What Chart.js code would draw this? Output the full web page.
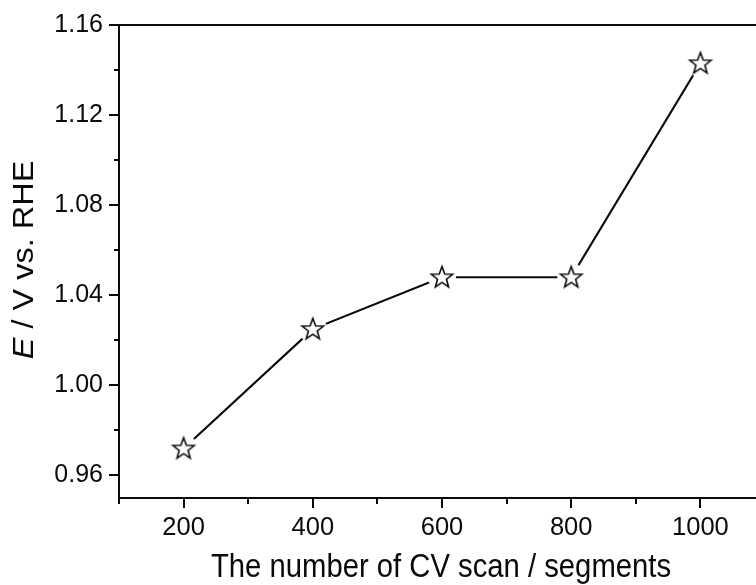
<!DOCTYPE html>
<html>
<head>
<meta charset="utf-8">
<script src="https://cdn.jsdelivr.net/npm/chart.js@4/dist/chart.umd.min.js"></script>
<style>
  html, body { margin: 0; padding: 0; background: #fff; overflow: hidden; }
  canvas { display: block; }
</style>
</head>
<body>
<canvas id="c" width="780" height="585"></canvas>
<script>
// Onset potential versus number of CV scan segments
const scans = [200, 400, 600, 800, 1000];
const potential = [0.972, 1.025, 1.048, 1.048, 1.143];

const xTicks = [200, 400, 600, 800, 1000];
const xMinorTicks = [100, 300, 500, 700, 900, 1100];
const yTicks = [0.96, 1.00, 1.04, 1.08, 1.12, 1.16];
const yMinorTicks = [0.98, 1.02, 1.06, 1.10, 1.14];

const xTitle = 'The number of CV scan / segments';
const yTitleItalic = 'E';
const yTitleRest = ' / V vs. RHE';

const FONT = '"Liberation Sans", Arial, Helvetica, sans-serif';
const INK = '#0a0a0a';

// Hollow five-pointed star; the white disc behind it leaves a small gap in the line
function makeStar() {
  const size = 34, c = size / 2;
  const cv = document.createElement('canvas');
  cv.width = size; cv.height = size;
  const g = cv.getContext('2d');
  g.fillStyle = '#fff';
  g.beginPath(); g.arc(c, c, 14, 0, Math.PI * 2); g.fill();
  const R = 11.2, r = 4.7;
  g.beginPath();
  for (let i = 0; i < 10; i++) {
    const rad = i % 2 === 0 ? R : r;
    const a = -Math.PI / 2 + i * Math.PI / 5;
    const px = c + rad * Math.cos(a), py = c + 0.5 + rad * Math.sin(a);
    i === 0 ? g.moveTo(px, py) : g.lineTo(px, py);
  }
  g.closePath();
  g.fillStyle = '#fff';
  g.fill();
  g.lineWidth = 1.6;
  g.strokeStyle = INK;
  g.lineJoin = 'miter';
  g.stroke();
  return cv;
}

// Frame top edge, outward tick marks and axis titles
const framePlugin = {
  id: 'frame',
  afterDraw(chart) {
    const { ctx, chartArea: a, scales: { x, y } } = chart;
    ctx.save();
    ctx.strokeStyle = INK;
    ctx.lineWidth = 2;
    ctx.lineCap = 'butt';

    ctx.beginPath();
    ctx.moveTo(a.left - 1, a.top);
    ctx.lineTo(a.right, a.top);
    ctx.moveTo(a.right, a.top);
    ctx.lineTo(a.right, a.bottom);
    ctx.stroke();

    const tick = (x1, y1, x2, y2) => { ctx.beginPath(); ctx.moveTo(x1, y1); ctx.lineTo(x2, y2); ctx.stroke(); };
    xTicks.forEach(v => { const px = Math.round(x.getPixelForValue(v)); tick(px, a.bottom, px, a.bottom + 10); });
    xMinorTicks.forEach(v => { const px = Math.round(x.getPixelForValue(v)); tick(px, a.bottom, px, a.bottom + 6); });
    yTicks.forEach(v => { const py = Math.round(y.getPixelForValue(v)); tick(a.left, py, a.left - 10, py); });
    yMinorTicks.forEach(v => { const py = Math.round(y.getPixelForValue(v)); tick(a.left, py, a.left - 5, py); });

    ctx.fillStyle = INK;

    // x title
    ctx.save();
    ctx.font = '32.5px ' + FONT;
    ctx.textAlign = 'center';
    ctx.textBaseline = 'alphabetic';
    ctx.translate(441, 577);
    ctx.scale(0.9, 1);
    ctx.fillText(xTitle, 0, 0);
    ctx.restore();

    // y title with italic symbol
    ctx.save();
    ctx.translate(25, 260);
    ctx.rotate(-Math.PI / 2);
    ctx.scale(1, 0.88);
    ctx.textBaseline = 'middle';
    ctx.textAlign = 'left';
    ctx.font = 'italic 32.5px ' + FONT;
    const w1 = ctx.measureText(yTitleItalic).width;
    ctx.font = '32.5px ' + FONT;
    const w2 = ctx.measureText(yTitleRest).width;
    const start = -(w1 + w2) / 2;
    ctx.font = 'italic 32.5px ' + FONT;
    ctx.fillText(yTitleItalic, start, 0);
    ctx.font = '32.5px ' + FONT;
    ctx.fillText(yTitleRest, start + w1, 0);
    ctx.restore();

    ctx.restore();
  }
};

const star = makeStar();

new Chart(document.getElementById('c'), {
  type: 'line',
  data: {
    datasets: [{
      data: scans.map((s, i) => ({ x: s, y: potential[i] })),
      borderColor: INK,
      borderWidth: 2.2,
      tension: 0,
      fill: false,
      pointStyle: star,
      pointRadius: 12,
      pointHoverRadius: 12
    }]
  },
  options: {
    responsive: false,
    animation: false,
    devicePixelRatio: 1,
    layout: { padding: { top: 25, right: 15, left: 0, bottom: 0 } },
    plugins: { legend: { display: false }, tooltip: { enabled: false } },
    events: [],
    scales: {
      x: {
        type: 'linear',
        min: 100,
        max: 1100,
        afterFit(scale) {
          scale.height = 87;
          scale.paddingLeft = 0; scale.paddingRight = 0;
        },
        afterBuildTicks(scale) { scale.ticks = xTicks.map(v => ({ value: v })); },
        grid: { display: false, drawTicks: false },
        border: { display: true, color: INK, width: 2 },
        ticks: {
          autoSkip: false, maxRotation: 0, minRotation: 0,
          padding: 15,
          color: INK,
          font: { family: FONT, size: 25.5 },
          callback: v => String(v)
        }
      },
      y: {
        type: 'linear',
        min: 0.95,
        max: 1.16,
        afterFit(scale) {
          scale.width = 119;
          scale.paddingTop = 0; scale.paddingBottom = 0;
        },
        afterBuildTicks(scale) { scale.ticks = yTicks.map(v => ({ value: v })); },
        grid: { display: false, drawTicks: false },
        border: { display: true, color: INK, width: 2 },
        ticks: {
          autoSkip: false,
          padding: 16,
          color: INK,
          font: { family: FONT, size: 25 },
          callback: v => Number(v).toFixed(2)
        }
      }
    }
  },
  plugins: [framePlugin]
});
</script>
</body>
</html>
